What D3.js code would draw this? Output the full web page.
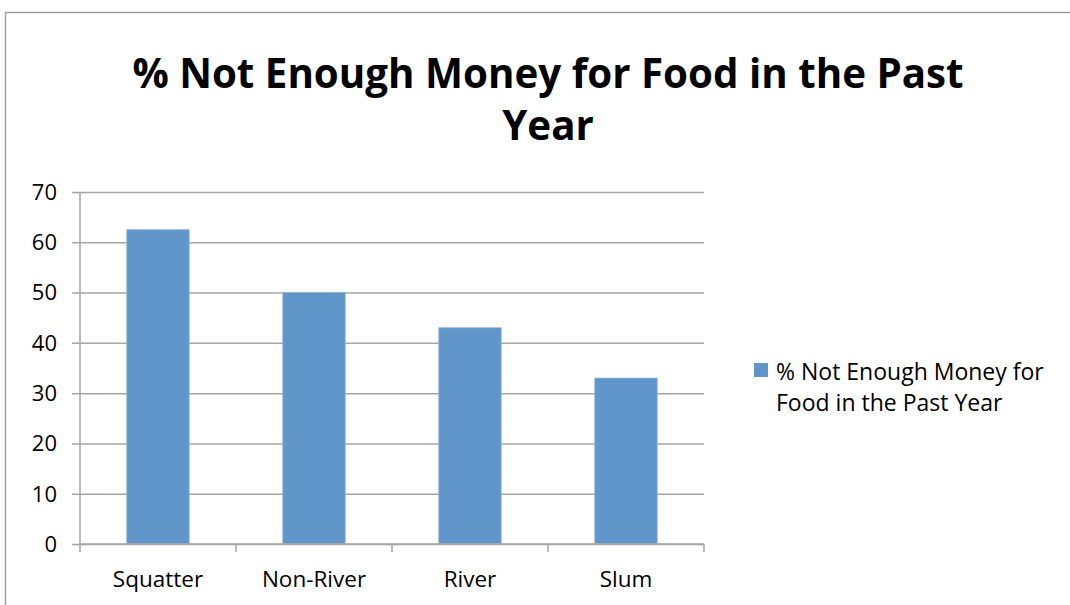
<!DOCTYPE html>
<html>
<head>
<meta charset="utf-8">
<script src="https://cdn.jsdelivr.net/npm/d3@7"></script>
<style>
  html, body { margin: 0; padding: 0; background: #fff; }
  svg { display: block; font-family: "Open Sans", "Noto Sans", sans-serif; }
</style>
</head>
<body>
<svg id="chart" width="1070" height="605"></svg>
<script>
// Share of households without enough money for food in the past year
const categories = ["Squatter", "Non-River", "River", "Slum"];
const values = [62.5, 50, 43, 33];
const yTicks = [0, 10, 20, 30, 40, 50, 60, 70];
const titleLines = ["% Not Enough Money for Food in the Past", "Year"];
const seriesName = ["% Not Enough Money for", "Food in the Past Year"];

const svg = d3.select("#chart");
const barColor = "#6196cb";
const gridColor = "#a6a6a6";

// Outer chart frame
svg.append("rect")
  .attr("x", 5.5).attr("y", 12.5)
  .attr("width", 1080).attr("height", 620)
  .attr("fill", "#fff").attr("stroke", "#a0a0a0").attr("stroke-width", 1.5);

// Title
const title = svg.append("text")
  .attr("text-anchor", "middle")
  .attr("font-weight", "bold")
  .attr("font-size", 40.3)
  .attr("fill", "#000");
titleLines.forEach((t, i) => {
  title.append("tspan").attr("x", 548).attr("y", 88 + i * 52).text(t);
});

const plot = { left: 80, right: 704, top: 192, bottom: 544 };

const x = d3.scaleBand()
  .domain(categories)
  .range([plot.left, plot.right])
  .paddingInner(0.6)
  .paddingOuter(0.3);

const y = d3.scaleLinear()
  .domain([0, 70])
  .range([plot.bottom, plot.top]);

// Horizontal gridlines with outward tick marks
const yAxis = d3.axisLeft(y)
  .tickValues(yTicks)
  .tickSize(-(plot.right - plot.left))
  .tickPadding(0)
  .tickFormat("");
const gy = svg.append("g")
  .attr("transform", `translate(${plot.left},0)`)
  .call(yAxis);
gy.select(".domain").remove();
gy.selectAll(".tick line").attr("stroke", gridColor).attr("stroke-width", 1.5)
  .attr("x1", -8);

// Y tick labels
svg.append("g").selectAll("text")
  .data(yTicks)
  .join("text")
  .attr("x", 57)
  .attr("y", d => y(d))
  .attr("dy", "0.36em")
  .attr("text-anchor", "end")
  .attr("font-size", 22)
  .attr("fill", "#000")
  .text(d => d);

// Y axis line
svg.append("line")
  .attr("x1", plot.left).attr("x2", plot.left)
  .attr("y1", plot.top).attr("y2", plot.bottom)
  .attr("stroke", gridColor).attr("stroke-width", 1.5);

// Bars
svg.append("g").selectAll("rect")
  .data(categories)
  .join("rect")
  .attr("x", d => x(d))
  .attr("width", x.bandwidth())
  .attr("y", (d, i) => y(values[i]))
  .attr("height", (d, i) => y(0) - y(values[i]))
  .attr("fill", barColor)
  .attr("stroke", "#8fb4dc")
  .attr("stroke-width", 0.8);

// X axis with category boundary ticks
const bounds = d3.range(categories.length + 1).map(i => plot.left + i * (plot.right - plot.left) / categories.length);
svg.append("line")
  .attr("x1", plot.left).attr("x2", plot.right)
  .attr("y1", plot.bottom).attr("y2", plot.bottom)
  .attr("stroke", gridColor).attr("stroke-width", 1.5);
svg.append("g").selectAll("line")
  .data(bounds)
  .join("line")
  .attr("x1", d => d).attr("x2", d => d)
  .attr("y1", plot.bottom).attr("y2", plot.bottom + 8)
  .attr("stroke", gridColor).attr("stroke-width", 1.5);

// Category labels
svg.append("g").selectAll("text")
  .data(categories)
  .join("text")
  .attr("x", d => x(d) + x.bandwidth() / 2)
  .attr("y", 587)
  .attr("text-anchor", "middle")
  .attr("font-size", 22.5)
  .attr("fill", "#000")
  .text(d => d);

// Legend
svg.append("rect")
  .attr("x", 754).attr("y", 363)
  .attr("width", 14).attr("height", 14)
  .attr("fill", barColor);
const leg = svg.append("text")
  .attr("font-size", 23)
  .attr("fill", "#000");
seriesName.forEach((t, i) => {
  leg.append("tspan").attr("x", 776).attr("y", 380 + i * 31).text(t);
});
</script>
</body>
</html>
